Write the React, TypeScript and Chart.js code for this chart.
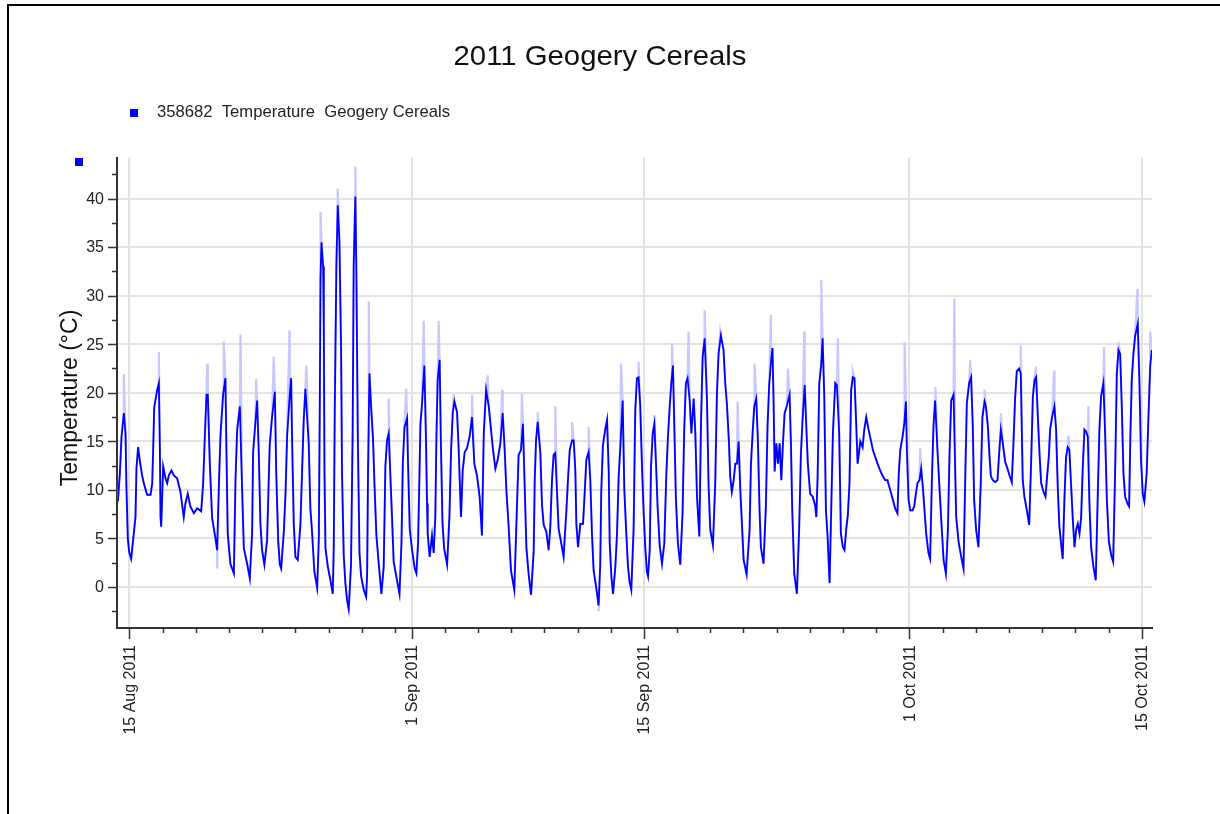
import React, { useEffect, useRef } from "react";
import { Chart, registerables } from "chart.js";

Chart.register(...registerables);

const chartTitle = "2011 Geogery Cereals";
const seriesLabel = "358682  Temperature  Geogery Cereals";
const yAxisTitle = "Temperature (°C)";

// time in days since 15 Aug 2011 00:00
const timeDays = [
  -0.70, -0.58, -0.48, -0.34, -0.24, -0.18, -0.10, -0.02, 0.10, 0.36,
  0.42, 0.52, 0.62, 0.76, 0.86, 1.06, 1.27, 1.37, 1.43, 1.49,
  1.67, 1.77, 1.83, 1.87, 1.91, 2.03, 2.17, 2.27, 2.37, 2.53,
  2.67, 2.87, 3.07, 3.27, 3.37, 3.51, 3.67, 3.88, 4.08, 4.32,
  4.44, 4.54, 4.64, 4.72, 4.84, 4.98, 5.18, 5.28, 5.38, 5.48,
  5.64, 5.78, 5.84, 5.92, 6.08, 6.29, 6.39, 6.49, 6.65, 6.79,
  6.89, 7.09, 7.25, 7.39, 7.45, 7.59, 7.69, 7.79, 7.89, 7.99,
  8.13, 8.29, 8.45, 8.59, 8.76, 8.84, 8.96, 9.06, 9.14, 9.30,
  9.40, 9.50, 9.66, 9.74, 9.80, 9.90, 10.00, 10.14, 10.30, 10.40,
  10.50, 10.60, 10.80, 10.90, 11.00, 11.14, 11.31, 11.41, 11.47, 11.51,
  11.57, 11.67, 11.71, 11.75, 11.81, 11.95, 12.11, 12.25, 12.31, 12.37,
  12.47, 12.55, 12.65, 12.75, 12.81, 12.91, 13.01, 13.11, 13.21, 13.35,
  13.45, 13.51, 13.61, 13.67, 13.76, 13.86, 13.96, 14.12, 14.26, 14.32,
  14.38, 14.46, 14.56, 14.68, 14.76, 14.88, 15.02, 15.18, 15.32, 15.42,
  15.52, 15.62, 15.72, 15.82, 15.92, 16.12, 16.27, 16.39, 16.47, 16.57,
  16.73, 16.79, 16.89, 17.03, 17.19, 17.29, 17.39, 17.47, 17.53, 17.63,
  17.77, 17.87, 17.93, 17.97, 18.09, 18.23, 18.33, 18.43, 18.49, 18.57,
  18.69, 18.76, 18.86, 18.96, 19.14, 19.28, 19.38, 19.48, 19.58, 19.74,
  19.84, 19.94, 19.98, 20.08, 20.20, 20.34, 20.50, 20.64, 20.78, 20.94,
  21.10, 21.24, 21.35, 21.49, 21.65, 21.81, 21.91, 22.05, 22.19, 22.35,
  22.49, 22.61, 22.71, 22.85, 22.99, 23.19, 23.35, 23.45, 23.59, 23.71,
  23.80, 23.92, 24.06, 24.20, 24.36, 24.42, 24.50, 24.60, 24.76, 24.86,
  24.96, 25.12, 25.26, 25.36, 25.46, 25.56, 25.66, 25.76, 25.86, 26.02,
  26.16, 26.33, 26.43, 26.53, 26.67, 26.77, 26.87, 26.93, 27.03, 27.17,
  27.33, 27.41, 27.53, 27.67, 27.77, 27.87, 27.97, 28.13, 28.27, 28.37,
  28.43, 28.53, 28.67, 28.78, 28.88, 28.94, 29.04, 29.14, 29.28, 29.38,
  29.48, 29.58, 29.72, 29.82, 29.92, 30.04, 30.14, 30.24, 30.38, 30.48,
  30.58, 30.68, 30.78, 30.88, 30.98, 31.08, 31.18, 31.25, 31.35, 31.43,
  31.53, 31.63, 31.73, 31.83, 31.95, 32.09, 32.23, 32.35, 32.45, 32.55,
  32.65, 32.75, 32.83, 32.93, 33.05, 33.19, 33.33, 33.43, 33.53, 33.63,
  33.76, 33.86, 34.00, 34.10, 34.20, 34.34, 34.44, 34.54, 34.66, 34.80,
  34.90, 35.00, 35.16, 35.30, 35.40, 35.50, 35.64, 35.80, 35.90, 36.00,
  36.12, 36.20, 36.30, 36.41, 36.51, 36.61, 36.71, 36.81, 36.91, 37.01,
  37.19, 37.37, 37.45, 37.55, 37.65, 37.77, 37.87, 37.97, 38.05, 38.21,
  38.35, 38.45, 38.55, 38.67, 38.75, 38.82, 38.88, 38.98, 39.08, 39.18,
  39.28, 39.38, 39.48, 39.62, 39.78, 39.86, 39.94, 40.06, 40.22, 40.36,
  40.46, 40.56, 40.69, 40.78, 40.88, 41.02, 41.18, 41.33, 41.39, 41.47,
  41.57, 41.69, 41.77, 41.87, 41.97, 42.07, 42.19, 42.29, 42.39, 42.53,
  42.63, 42.77, 42.87, 42.99, 43.09, 43.19, 43.29, 43.39, 43.49, 43.59,
  43.69, 43.79, 43.88, 43.96, 44.04, 44.18, 44.28, 44.40, 44.54, 44.68,
  44.80, 44.94, 45.08, 45.24, 45.40, 45.54, 45.68, 45.84, 46.00, 46.14,
  46.28, 46.36, 46.45, 46.59, 46.69, 46.79, 46.85, 46.95, 47.05, 47.19,
  47.29, 47.39, 47.49, 47.61, 47.71, 47.81, 47.91, 48.01, 48.15, 48.25,
  48.35, 48.45, 48.55, 48.69, 48.82, 48.92, 49.06, 49.20, 49.32, 49.42,
  49.52, 49.66, 49.76, 49.82, 49.96, 50.10, 50.26, 50.36, 50.46, 50.60,
  50.72, 50.82, 50.90, 51.02, 51.16, 51.30, 51.40, 51.53, 51.61, 51.73,
  51.83, 51.91, 52.03, 52.17, 52.31, 52.41, 52.51, 52.63, 52.77, 52.91,
  53.03, 53.17, 53.27, 53.37, 53.47, 53.61, 53.71, 53.83, 53.93, 54.08,
  54.22, 54.34, 54.44, 54.54, 54.64, 54.74, 54.84, 54.94, 55.08, 55.20,
  55.28, 55.40, 55.48, 55.60, 55.74, 55.84, 55.94, 56.04, 56.14, 56.24,
  56.34, 56.44, 56.54, 56.64, 56.75, 56.85, 56.95, 57.05, 57.15, 57.25,
  57.35, 57.45, 57.55, 57.65, 57.75, 57.85, 57.95, 58.09, 58.23, 58.35,
  58.45, 58.55, 58.69, 58.80, 58.90, 59.02, 59.16, 59.28, 59.40, 59.50,
  59.60, 59.70, 59.80, 59.90, 60.00, 60.14, 60.24, 60.32, 60.40, 60.50,
  60.60, 60.76, 60.86, 60.96, 61.06, 61.16, 61.30, 61.40, 61.51, 61.61,
];

const tempC = [
  8.8, 11.7, 15.5, 17.9, 15.8, 10.0, 5.0, 3.6, 2.9, 7.2,
  12.2, 14.4, 13.0, 11.5, 10.7, 9.5, 9.5, 10.7, 14.4, 18.5,
  20.3, 21.0, 14.4, 7.2, 6.2, 12.4, 11.2, 10.7, 11.5, 12.0,
  11.5, 11.2, 9.8, 7.2, 8.6, 9.6, 8.3, 7.6, 8.1, 7.8,
  10.7, 15.5, 19.8, 19.8, 12.7, 7.1, 5.0, 3.8, 10.0, 15.5,
  19.8, 21.5, 14.3, 5.5, 2.4, 1.4, 11.2, 16.2, 18.6, 9.8,
  4.0, 2.4, 0.9, 5.5, 13.9, 17.0, 19.2, 13.9, 6.5, 3.8,
  2.3, 4.8, 14.6, 17.5, 20.1, 12.0, 4.8, 2.3, 1.9, 5.7,
  9.5, 15.6, 19.8, 21.5, 15.0, 6.5, 3.1, 2.8, 6.4, 11.9,
  17.2, 20.4, 14.8, 8.1, 5.7, 1.6, -0.1, 5.0, 19.1, 31.8,
  35.5, 33.0, 27.0, 11.9, 4.0, 2.1, 0.7, -0.7, 4.1, 18.2,
  33.3, 39.3, 35.7, 24.7, 11.5, 3.3, 0.4, -1.3, -2.3, 2.3,
  16.2, 33.0, 40.2, 32.8, 15.5, 3.5, 1.1, -0.3, -1.0, 1.2,
  12.7, 22.0, 18.6, 15.1, 10.7, 5.3, 2.4, -0.7, 2.1, 12.4,
  15.1, 15.8, 11.5, 7.2, 2.6, 0.7, -0.7, 4.5, 12.6, 16.4,
  17.4, 12.4, 6.0, 3.8, 1.9, 1.4, 4.5, 11.2, 16.7, 18.9,
  22.8, 15.0, 8.6, 5.5, 3.1, 5.3, 3.5, 7.2, 14.8, 21.3,
  23.4, 15.5, 6.7, 4.0, 2.3, 7.2, 14.1, 17.9, 19.1, 18.0,
  14.1, 9.0, 7.2, 12.0, 13.9, 14.3, 15.5, 17.5, 12.7, 11.5,
  9.3, 5.3, 15.8, 20.3, 18.6, 15.8, 14.1, 12.2, 13.1, 14.8,
  17.9, 14.1, 10.0, 6.2, 1.7, -0.3, 8.3, 13.6, 14.1, 16.8,
  11.3, 4.0, 1.2, -0.8, 3.8, 11.0, 15.1, 17.0, 13.8, 8.4,
  6.4, 5.7, 3.8, 6.2, 11.0, 13.6, 13.8, 10.0, 6.0, 4.5,
  3.1, 7.9, 11.2, 14.1, 15.1, 15.1, 11.9, 6.5, 4.1, 6.5,
  6.5, 9.0, 13.1, 13.9, 11.0, 5.5, 1.7, -0.1, -1.9, 2.4,
  9.8, 14.6, 16.2, 17.2, 11.9, 4.5, 1.1, -0.7, 2.1, 5.5,
  11.4, 14.4, 19.2, 10.0, 6.2, 2.1, 0.5, -0.3, 6.0, 18.2,
  21.5, 21.6, 18.6, 12.7, 7.9, 4.1, 1.6, 1.1, 3.8, 12.4,
  15.8, 16.8, 12.7, 8.1, 4.3, 2.4, 4.5, 11.5, 15.5, 18.4,
  21.0, 22.8, 16.8, 9.0, 4.5, 2.3, 7.6, 16.2, 21.0, 21.5,
  19.2, 15.8, 19.4, 15.8, 9.3, 5.2, 16.8, 23.7, 25.6, 19.4,
  10.3, 5.9, 4.3, 10.7, 19.9, 24.0, 25.9, 24.4, 21.0, 18.9,
  15.1, 11.4, 9.8, 11.0, 12.7, 12.7, 15.0, 10.0, 6.4, 2.8,
  1.3, 5.9, 12.6, 15.8, 18.6, 19.4, 15.1, 7.9, 4.1, 2.4,
  8.3, 16.5, 20.8, 23.4, 24.6, 18.6, 11.9, 14.8, 12.7, 14.8,
  11.0, 14.8, 17.9, 18.7, 19.8, 14.8, 7.9, 1.4, -0.7, 6.2,
  13.6, 17.2, 20.8, 16.8, 12.7, 9.6, 9.3, 8.3, 7.2, 11.4,
  21.0, 23.0, 25.6, 19.6, 7.9, 5.2, 0.4, 8.1, 15.8, 21.0,
  20.8, 15.8, 5.5, 4.1, 3.8, 5.9, 7.4, 10.7, 20.3, 21.6,
  21.5, 17.0, 12.7, 13.8, 15.0, 14.4, 16.2, 17.5, 16.2, 15.1,
  14.1, 13.4, 12.7, 12.0, 11.4, 11.0, 11.0, 10.0, 9.0, 8.1,
  7.6, 11.7, 14.1, 15.5, 16.8, 19.1, 14.1, 9.0, 7.9, 7.9,
  8.3, 9.6, 10.7, 11.0, 12.2, 10.3, 7.9, 5.5, 3.5, 2.9,
  10.7, 16.5, 19.2, 14.1, 10.0, 6.9, 2.8, 1.4, 5.9, 13.8,
  19.2, 19.8, 12.0, 7.2, 4.7, 3.3, 1.9, 10.7, 18.9, 21.0,
  21.6, 16.5, 9.0, 5.9, 4.1, 10.7, 17.5, 19.1, 18.6, 16.5,
  13.4, 11.4, 11.0, 10.8, 11.0, 13.8, 16.2, 14.8, 12.9, 12.2,
  11.5, 10.8, 14.8, 19.4, 22.2, 22.5, 22.0, 11.0, 9.3, 7.9,
  6.4, 13.1, 19.6, 21.3, 21.6, 17.5, 13.8, 10.7, 9.8, 9.3,
  11.0, 13.4, 16.2, 17.5, 18.6, 16.2, 10.3, 6.2, 4.5, 2.9,
  9.0, 13.4, 14.4, 14.1, 10.3, 6.9, 4.1, 5.9, 6.5, 5.5,
  7.2, 12.4, 16.2, 16.0, 15.5, 8.6, 4.1, 2.1, 0.7, 9.3,
  16.2, 19.6, 21.0, 15.5, 9.0, 4.7, 3.3, 2.6, 12.0, 22.0,
  24.4, 24.0, 18.6, 11.7, 9.3, 8.6, 8.3, 15.8, 21.3, 24.0,
  25.8, 27.1, 21.3, 13.1, 9.6, 8.8, 11.7, 17.2, 22.7, 24.4,
];

// short-term extremes (light envelope spikes)
const spikeDays = [
  -0.34, 1.77, 4.68, 5.28, 5.68, 6.69, 7.63, 8.69, 9.64, 10.66,
  11.31, 11.51, 12.55, 13.21, 13.61, 14.42, 15.62, 16.67, 17.73, 18.63,
  19.54, 20.64, 21.59, 22.45, 23.65, 24.60, 25.66, 26.67, 27.67, 28.27,
  29.62, 30.68, 31.63, 32.69, 33.69, 34.66, 35.60, 36.65, 37.67, 38.65,
  39.68, 40.66, 41.69, 42.69, 43.59, 46.71, 47.65, 48.57, 49.71, 50.66,
  51.53, 52.51, 53.71, 54.62, 55.72, 56.59, 57.79, 58.73, 59.60, 60.74,
  61.51,
];
const spikeTemps = [
  21.9, 24.2, 23.0, 1.9, 25.3, 26.0, 21.4, 23.7, 26.4, 22.8,
  -0.6, 38.6, 41.0, -2.5, 43.3, 29.4, 19.4, 20.4, 27.4, 27.4,
  19.9, 19.8, 21.8, 20.3, 19.9, 18.0, 18.6, 17.0, 16.5, -2.5,
  23.0, 23.2, 17.7, 25.1, 26.3, 28.5, 26.3, 19.1, 23.0, 28.0,
  22.5, 26.3, 31.6, 25.6, 22.2, 25.2, 14.3, 20.6, 29.7, 23.4,
  20.3, 17.9, 24.9, 22.7, 22.3, 15.6, 18.6, 24.7, 25.2, 30.7,
  26.3,
];

const xTickDays = [0, 17, 31, 47, 61];
const xTickLabels = ["15 Aug 2011", "1 Sep 2011", "15 Sep 2011", "1 Oct 2011", "15 Oct 2011"];
const yTickValues = [0, 5, 10, 15, 20, 25, 30, 35, 40];

const X_MIN = -0.753;
const X_MAX = 61.62;
const Y_MIN = -4.22;
const Y_MAX = 44.17;

const FONT = '"Liberation Sans", Arial, sans-serif';

function drawScaledText(
  ctx: CanvasRenderingContext2D,
  text: string,
  x: number,
  y: number,
  font: string,
  align: CanvasTextAlign,
  targetWidth?: number
) {
  ctx.save();
  ctx.font = font;
  ctx.textAlign = "left";
  ctx.textBaseline = "alphabetic";
  const w = ctx.measureText(text).width;
  const sx = targetWidth ? targetWidth / w : 1;
  const realW = w * sx;
  let left = x;
  if (align === "center") left = x - realW / 2;
  else if (align === "right") left = x - realW;
  ctx.translate(left, y);
  ctx.scale(sx, 1);
  ctx.fillText(text, 0, 0);
  ctx.restore();
}

const decorPlugin = {
  id: "decor",
  afterDraw(chart: any) {
    const ctx: CanvasRenderingContext2D = chart.ctx;
    const xs = chart.scales.x;
    const ys = chart.scales.y;
    const area = chart.chartArea;
    ctx.save();

    // frame
    ctx.fillStyle = "#000";
    ctx.fillRect(7, 4, 1213, 2);
    ctx.fillRect(7, 4, 2, 810);

    // title
    ctx.fillStyle = "#111";
    drawScaledText(ctx, chartTitle, 600, 65, `28px ${FONT}`, "center", 293);

    // legend
    ctx.fillStyle = "#0000ff";
    ctx.fillRect(130, 109, 8, 8);
    ctx.fillStyle = "#222";
    drawScaledText(ctx, seriesLabel, 157, 117, `17px ${FONT}`, "left", 293);

    // stray marker at top-left of the axis
    ctx.fillStyle = "#0000ff";
    ctx.fillRect(75, 158, 8, 8);

    // y ticks
    ctx.strokeStyle = "#333";
    ctx.lineWidth = 1.5;
    ctx.beginPath();
    for (let v = -2.5; v <= Y_MAX; v += 5) {
      const py = Math.round(ys.getPixelForValue(v)) + 0.5;
      ctx.moveTo(area.left - 5, py);
      ctx.lineTo(area.left, py);
    }
    yTickValues.forEach((v) => {
      const py = Math.round(ys.getPixelForValue(v)) + 0.5;
      ctx.moveTo(area.left - 9, py);
      ctx.lineTo(area.left, py);
    });
    // x ticks
    xTickDays.forEach((d, i) => {
      const px = Math.round(xs.getPixelForValue(d)) + 0.5;
      ctx.moveTo(px, area.bottom);
      ctx.lineTo(px, area.bottom + 11);
      const next = i + 1 < xTickDays.length ? xTickDays[i + 1] : X_MAX;
      for (let k = d + 2; k < next - 0.01; k += 2) {
        const mx = Math.round(xs.getPixelForValue(k)) + 0.5;
        ctx.moveTo(mx, area.bottom);
        ctx.lineTo(mx, area.bottom + 5);
      }
    });
    ctx.stroke();

    // y tick labels
    ctx.fillStyle = "#222";
    ctx.font = `16px ${FONT}`;
    ctx.textAlign = "right";
    ctx.textBaseline = "middle";
    yTickValues.forEach((v) => {
      const py = ys.getPixelForValue(v);
      ctx.fillText(String(v), 104, py + 1);
    });

    // x tick labels (rotated)
    ctx.font = `16px ${FONT}`;
    ctx.textAlign = "right";
    ctx.textBaseline = "middle";
    xTickDays.forEach((d, i) => {
      const px = xs.getPixelForValue(d);
      ctx.save();
      ctx.translate(px + 1, area.bottom + 17);
      ctx.rotate(-Math.PI / 2);
      ctx.fillText(xTickLabels[i], 0, 0);
      ctx.restore();
    });

    // y axis title
    ctx.save();
    ctx.translate(71, 398);
    ctx.rotate(-Math.PI / 2);
    ctx.font = `23px ${FONT}`;
    ctx.textAlign = "center";
    ctx.textBaseline = "middle";
    ctx.fillStyle = "#111";
    ctx.fillText(yAxisTitle, 0, 0);
    ctx.restore();

    ctx.restore();
  },
};

export default function App() {
  const canvasRef = useRef<HTMLCanvasElement | null>(null);

  useEffect(() => {
    const canvas = canvasRef.current;
    if (!canvas) return;

    const darkPoints = timeDays.map((t, i) => ({ x: t, y: tempC[i] }));
    const spikePoints = spikeDays.map((t, i) => ({ x: t, y: spikeTemps[i] }));
    const lightPoints = darkPoints
      .map((p, i) => ({ ...p, k: i * 2 }))
      .concat(spikePoints.map((p, i) => ({ ...p, k: 1e6 + i })))
      .sort((a, b) => (a.x - b.x) || (a.k - b.k))
      .map((p) => ({ x: p.x, y: p.y }));

    const chart = new Chart(canvas, {
      type: "line",
      data: {
        datasets: [
          {
            label: seriesLabel,
            data: darkPoints,
            borderColor: "#0000ff",
            borderWidth: 1.8,
            pointRadius: 0,
            tension: 0,
            fill: false,
            order: 0,
          },
          {
            label: "extremes",
            data: lightPoints,
            borderColor: "#c8c8ff",
            borderWidth: 2.2,
            pointRadius: 0,
            tension: 0,
            fill: false,
            order: 1,
          },
        ],
      },
      options: {
        responsive: false,
        animation: false,
        events: [],
        layout: { padding: { top: 158, right: 68, left: 0, bottom: 0 } },
        plugins: {
          legend: { display: false },
          title: { display: false },
          tooltip: { enabled: false },
        },
        scales: {
          x: {
            type: "linear",
            min: X_MIN,
            max: X_MAX,
            afterBuildTicks: (scale: any) => {
              scale.ticks = xTickDays.map((v) => ({ value: v }));
            },
            afterFit: (scale: any) => {
              scale.height = 186;
            },
            ticks: { display: false },
            grid: { color: "#e3e3e3", lineWidth: 2, drawTicks: false },
            border: { display: true, color: "#333", width: 2 },
          },
          y: {
            type: "linear",
            min: Y_MIN,
            max: Y_MAX,
            afterBuildTicks: (scale: any) => {
              scale.ticks = yTickValues.map((v) => ({ value: v }));
            },
            afterFit: (scale: any) => {
              scale.width = 117;
            },
            ticks: { display: false },
            grid: { color: "#e3e3e3", lineWidth: 2, drawTicks: false },
            border: { display: true, color: "#333", width: 2 },
          },
        },
      },
      plugins: [decorPlugin],
    });

    return () => {
      chart.destroy();
    };
  }, []);

  return (
    <div
      style={{
        position: "fixed",
        left: 0,
        top: 0,
        width: 1220,
        height: 814,
        background: "#fff",
      }}
    >
      <canvas ref={canvasRef} width={1220} height={814} style={{ display: "block" }} />
    </div>
  );
}
